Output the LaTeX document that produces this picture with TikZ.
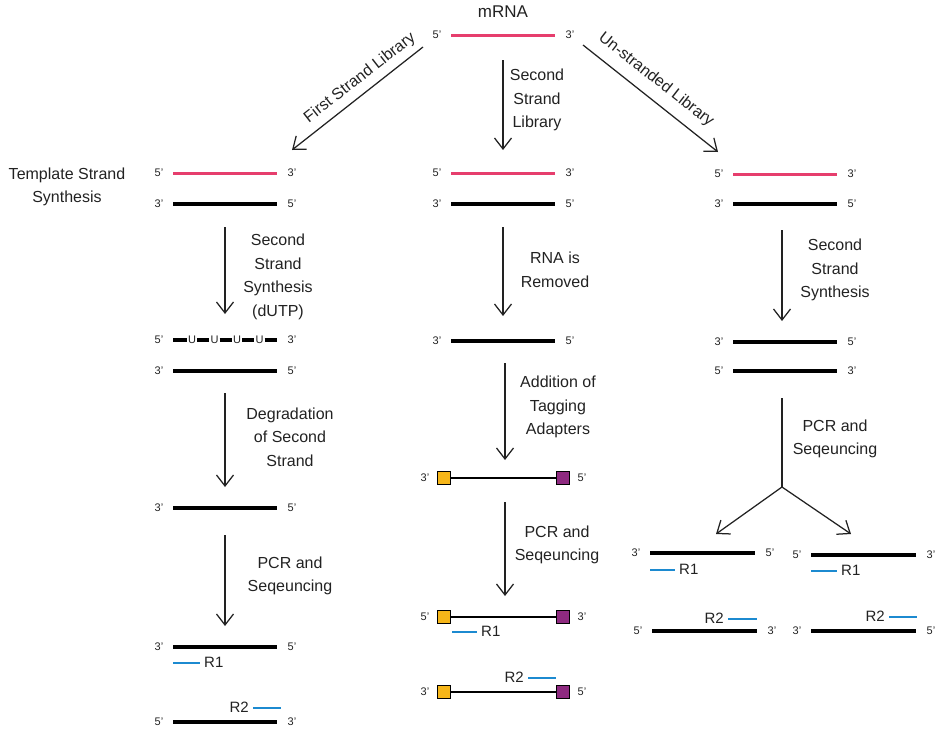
\documentclass[tikz,border=0pt]{standalone}
\usepackage{fontspec}
\setmainfont{Liberation Sans}
\usetikzlibrary{arrows.meta}
\definecolor{rnapink}{HTML}{E63E6D}
\definecolor{readblue}{HTML}{1C8AD0}
\definecolor{adyellow}{HTML}{F6B619}
\definecolor{adpurple}{HTML}{8E2A80}
\definecolor{txt}{HTML}{222222}
\tikzset{
  lbl/.style={font=\fontsize{16}{23.5}\selectfont, align=center, text=txt, inner sep=0pt},
  endl/.style={font=\fontsize{11}{13}\selectfont, text=txt, inner sep=0pt},
  rlbl/.style={font=\fontsize{15}{17}\selectfont, text=txt, inner sep=0pt},
  rna/.style={rnapink, line width=3pt},
  dna/.style={black, line width=3.2pt},
  thin dna/.style={black, line width=2.2pt},
  rd/.style={readblue, line width=2.5pt},
  flow/.style={line width=1.25pt, txt, -{Straight Barb[length=11pt,width=17pt]}},
  stem/.style={line width=1.25pt, txt},
  adbox/.style={draw=black, line width=1pt, minimum size=13pt, inner sep=0pt},
}
% name, style, x1, x2, y, left label, right label
\newcommand\mystrand[7]{%
  \coordinate (#1-l) at (#3,#5);
  \coordinate (#1-r) at (#4,#5);
  \draw[#2] (#1-l) -- (#1-r);
  \node[endl] (#1-a) at ([xshift=-14pt]#1-l) {#6};
  \node[endl] (#1-b) at ([xshift=15pt]#1-r) {#7};
}
\newcommand\myreadR[4]{%
  \coordinate (#1-l) at (#2,#4);
  \coordinate (#1-r) at (#3,#4);
  \draw[rd] (#1-l) -- (#1-r);
  \node[rlbl, anchor=west] (#1-t) at ([xshift=4pt,yshift=1pt]#1-r) {R1};
}
\newcommand\myreadL[4]{%
  \coordinate (#1-l) at (#2,#4);
  \coordinate (#1-r) at (#3,#4);
  \draw[rd] (#1-l) -- (#1-r);
  \node[rlbl, anchor=east] (#1-t) at ([xshift=-4pt,yshift=1pt]#1-l) {R2};
}
% adapter strands: name, y, left label, right label
\newcommand\myadapt[4]{%
  \node[adbox, fill=adyellow] (#1-y) at (444,#2) {};
  \node[adbox, fill=adpurple] (#1-p) at (563,#2) {};
  \draw[thin dna] (#1-y) -- (#1-p);
  \node[endl] (#1-a) at (425,#2) {#3};
  \node[endl] (#1-b) at (582,#2) {#4};
}
\begin{document}
\begin{tikzpicture}[x=1pt,y=-1pt]
\useasboundingbox (0,0) rectangle (941,731);

% top
\node[font=\fontsize{17}{20}\selectfont, text=txt] (mrna) at (503,12) {mRNA};
\mystrand{top}{rna}{451}{555}{35}{5'}{3'}

% top arrows
\coordinate (la1) at (423,47); \coordinate (la2) at (292,150);
\draw[flow] (la1) -- (la2);
\node[lbl, rotate=38] (llab) at (360,78) {First Strand Library};
\coordinate (ca1) at (503,60); \coordinate (ca2) at (503,150);
\draw[flow] (ca1) -- (ca2);
\node[lbl] (clab) at (537,100) {Second\\Strand\\Library};
\coordinate (ra1) at (583,45); \coordinate (ra2) at (718,152);
\draw[flow] (ra1) -- (ra2);
\node[lbl, rotate=-38] (rlab) at (656,80) {Un-stranded Library};

% ===== left column =====
\node[lbl] (tss) at (67,187) {Template Strand\\Synthesis};
\mystrand{l1}{rna}{173}{277}{173}{5'}{3'}
\mystrand{l2}{dna}{173}{277}{204}{3'}{5'}
\coordinate (l2a) at (225,227); \coordinate (l2b) at (225,314);
\draw[flow] (l2a) -- (l2b);
\node[lbl] (l2t) at (278,277) {Second\\Strand\\Synthesis\\(dUTP)};

% U strand
\coordinate (lu-l) at (173,340); \coordinate (lu-r) at (277,340);
\node[endl] (lu-a) at (159,340) {5'};
\node[endl] (lu-b) at (292,340) {3'};
\node[endl] (u1) at (192,340) {U};
\node[endl] (u2) at (214.5,340) {U};
\node[endl] (u3) at (237,340) {U};
\node[endl] (u4) at (259.5,340) {U};
\draw[dna] (lu-l) -- ([xshift=-1pt]u1.west);
\draw[dna] ([xshift=1pt]u1.east) -- ([xshift=-1pt]u2.west);
\draw[dna] ([xshift=1pt]u2.east) -- ([xshift=-1pt]u3.west);
\draw[dna] ([xshift=1pt]u3.east) -- ([xshift=-1pt]u4.west);
\draw[dna] ([xshift=1pt]u4.east) -- (lu-r);
\mystrand{l3}{dna}{173}{277}{371}{3'}{5'}
\coordinate (l3a) at (225,393); \coordinate (l3b) at (225,487);
\draw[flow] (l3a) -- (l3b);
\node[lbl] (l3t) at (290,437) {Degradation\\of Second\\Strand};
\mystrand{l4}{dna}{173}{277}{508}{3'}{5'}
\coordinate (l4a) at (225,535); \coordinate (l4b) at (225,626);
\draw[flow] (l4a) -- (l4b);
\node[lbl] (l4t) at (290,576) {PCR and\\Seqeuncing};
\mystrand{l5}{dna}{173}{277}{647}{3'}{5'}
\myreadR{lr1}{173}{200}{663}
\myreadL{lr2}{253}{281}{708}
\mystrand{l6}{dna}{173}{277}{722}{5'}{3'}

% ===== middle column =====
\mystrand{m1}{rna}{451}{555}{173}{5'}{3'}
\mystrand{m2}{dna}{451}{555}{204}{3'}{5'}
\coordinate (m2a) at (503,227); \coordinate (m2b) at (503,316);
\draw[flow] (m2a) -- (m2b);
\node[lbl] (m2t) at (555,270) {RNA is\\Removed};
\mystrand{m3}{dna}{451}{555}{341}{3'}{5'}
\coordinate (m3a) at (505,363); \coordinate (m3b) at (505,460);
\draw[flow] (m3a) -- (m3b);
\node[lbl] (m3t) at (558,407) {Addition of\\Tagging\\Adapters};

\myadapt{ma1}{478}{3'}{5'}
\coordinate (m4a) at (505,502); \coordinate (m4b) at (505,596);
\draw[flow] (m4a) -- (m4b);
\node[lbl] (m4t) at (557,545) {PCR and\\Seqeuncing};
\myadapt{ma2}{617}{5'}{3'}
\myreadR{mr1}{452}{477}{632}
\myreadL{mr2}{528}{556}{678}
\myadapt{ma3}{692}{3'}{5'}

% ===== right column =====
\mystrand{r1}{rna}{733}{837}{174}{5'}{3'}
\mystrand{r2}{dna}{733}{837}{204}{3'}{5'}
\coordinate (r2a) at (782,230); \coordinate (r2b) at (782,321);
\draw[flow] (r2a) -- (r2b);
\node[lbl] (r2t) at (835,270) {Second\\Strand\\Synthesis};
\mystrand{r3}{dna}{733}{837}{342}{3'}{5'}
\mystrand{r4}{dna}{733}{837}{371}{5'}{3'}
\coordinate (r4a) at (782,398); \coordinate (fork) at (782,487);
\draw[stem] (r4a) -- (fork);
\node[lbl] (r4t) at (835,439) {PCR and\\Seqeuncing};
\coordinate (fl) at (716,534); \coordinate (fr) at (851,534);
\draw[flow] (fork) -- (fl);
\draw[flow] (fork) -- (fr);

\mystrand{rl1}{dna}{650}{755}{553}{3'}{5'}
\myreadR{rlr1}{650}{675}{570}
\myreadL{rlr2}{728}{757}{619}
\mystrand{rl2}{dna}{652}{757}{631}{5'}{3'}

\mystrand{rr1}{dna}{811}{916}{555}{5'}{3'}
\myreadR{rrr1}{811}{837}{571}
\myreadL{rrr2}{889}{917}{617}
\mystrand{rr2}{dna}{811}{916}{631}{3'}{5'}
\end{tikzpicture}
\end{document}
